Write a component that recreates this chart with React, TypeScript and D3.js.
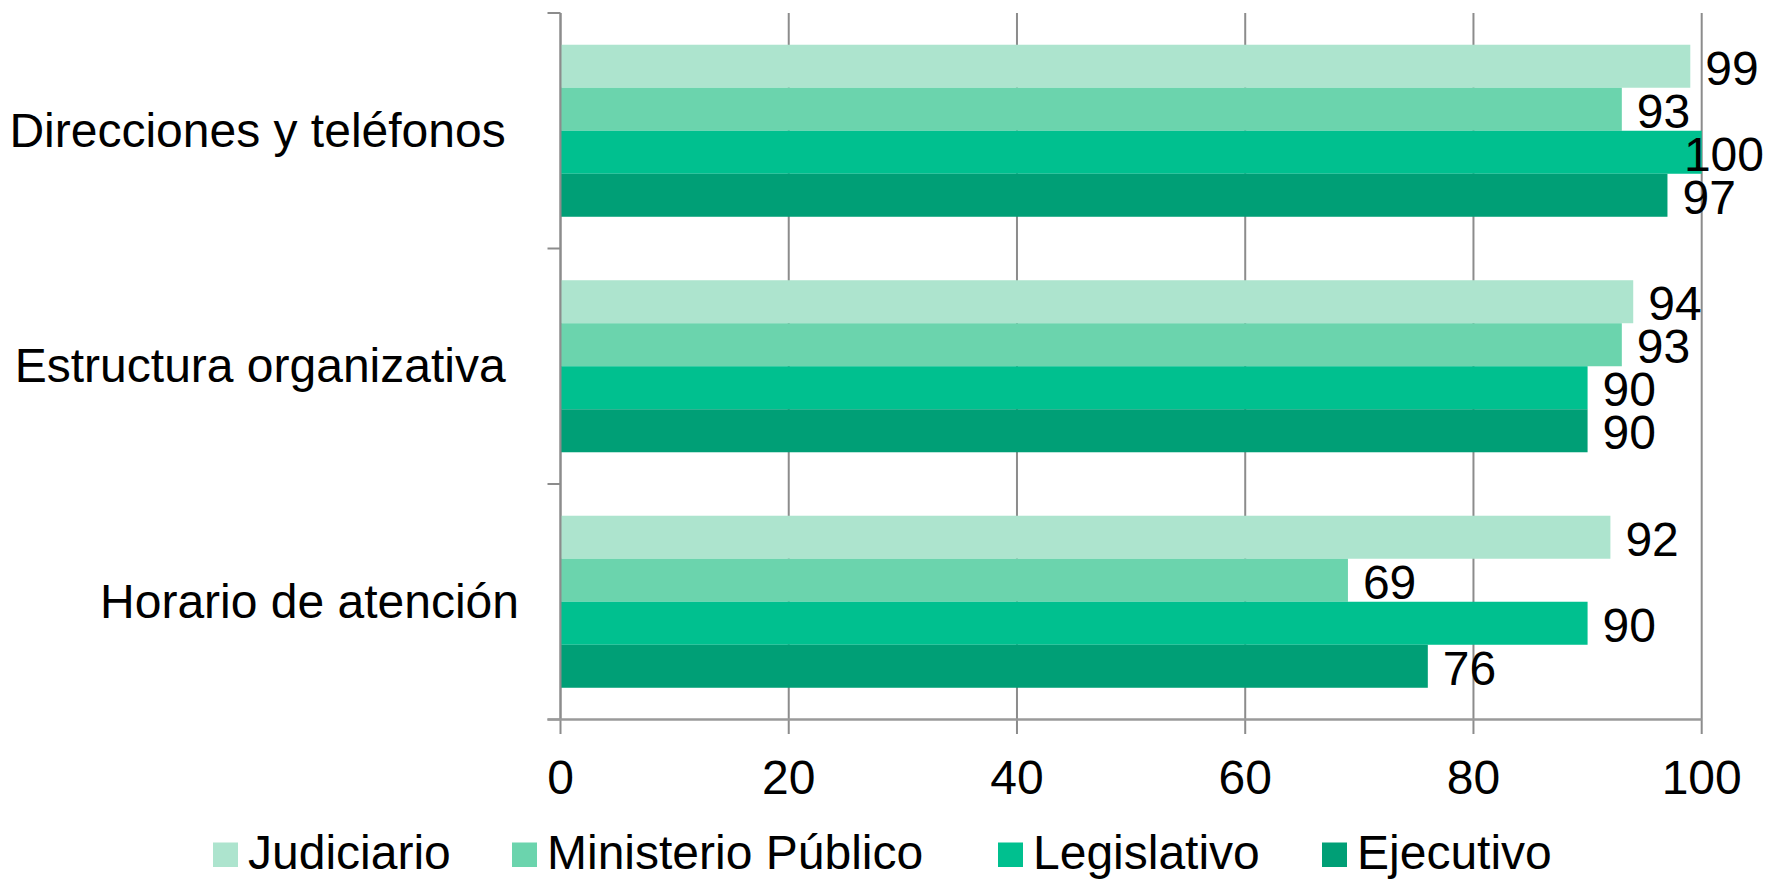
import React from "react";
import * as d3 from "d3";

const categories = ["Direcciones y teléfonos ", "Estructura organizativa ", "Horario de atención"];
const seriesNames = ["Judiciario", "Ministerio Público", "Legislativo", "Ejecutivo"];
const judiciario = [99, 94, 92];
const ministerio = [93, 93, 69];
const legislativo = [100, 90, 90];
const ejecutivo = [97, 90, 76];
const xTicks = [0, 20, 40, 60, 80, 100];

const seriesValues = [judiciario, ministerio, legislativo, ejecutivo];
const colors = ["#ADE4CE", "#6BD4AD", "#00C08F", "#009F76"];
const legendX = [213, 512, 998, 1322];

const W = 1765;
const H = 879;
const FONT = "'Liberation Sans', Arial, sans-serif";
const FS = 48;
const plot = { left: 560.5, right: 1701.7, top: 13, bottom: 719.5 };

export default function App() {
  const x = d3.scaleLinear().domain([0, 100]).range([plot.left, plot.right]);
  const y = d3.scaleBand<string>().domain(categories).range([plot.top, plot.bottom]).padding(0);
  const inner = d3
    .scaleBand<string>()
    .domain(seriesNames)
    .range([0, y.bandwidth()])
    .paddingInner(0)
    .paddingOuter(0.738);

  const catTicks = [plot.top, ...categories.map((c) => (y(c) as number) + y.bandwidth())];

  return (
    <svg
      width={W}
      height={H}
      viewBox={`0 0 ${W} ${H}`}
      style={{ position: "absolute", left: 0, top: 0, background: "#fff" }}
      fontFamily={FONT}
    >
      {/* vertical gridlines */}
      {xTicks.map((t) => (
        <line key={"g" + t} x1={x(t)} x2={x(t)} y1={plot.top} y2={plot.bottom + 14.5} stroke="#8c8c8c" strokeWidth={2} />
      ))}
      {/* bars */}
      {categories.map((c, ci) =>
        seriesNames.map((s, si) => (
          <rect
            key={c + s}
            x={x(0)}
            y={(y(c) as number) + (inner(s) as number)}
            width={x(seriesValues[si][ci]) - x(0)}
            height={inner.bandwidth()}
            fill={colors[si]}
          />
        ))
      )}
      {/* left axis */}
      <line x1={plot.left} x2={plot.left} y1={plot.top} y2={plot.bottom} stroke="#8c8c8c" strokeWidth={2} />
      {catTicks.map((t, i) => (
        <line key={"ct" + i} x1={plot.left - 13} x2={plot.left} y1={t} y2={t} stroke="#8c8c8c" strokeWidth={2} />
      ))}
      {/* bottom axis */}
      <line x1={plot.left - 13} x2={plot.right} y1={plot.bottom} y2={plot.bottom} stroke="#9a9a9a" strokeWidth={2.5} />
      {/* x tick labels */}
      {xTicks.map((t) => (
        <text key={"xl" + t} x={x(t)} y={794} textAnchor="middle" fontSize={FS} fill="#000">
          {t}
        </text>
      ))}
      {/* category labels */}
      {categories.map((c) => (
        <text
          key={"cl" + c}
          x={519}
          y={(y(c) as number) + y.bandwidth() / 2 + 16}
          textAnchor="end"
          fontSize={FS}
          fill="#000"
          style={{ whiteSpace: "pre" }}
        >
          {c}
        </text>
      ))}
      {/* value labels */}
      {categories.map((c, ci) =>
        seriesNames.map((s, si) => {
          const v = seriesValues[si][ci];
          const label = String(v);
          const w = label.length * 0.556 * FS;
          const lx = Math.min(x(v) + 15, W - 1 - w);
          return (
            <text
              key={"vl" + c + s}
              x={lx}
              y={(y(c) as number) + (inner(s) as number) + inner.bandwidth() / 2 + 18.5}
              fontSize={FS}
              fill="#000"
            >
              {label}
            </text>
          );
        })
      )}
      {/* legend */}
      {seriesNames.map((s, si) => (
        <g key={"lg" + s} transform={`translate(${legendX[si]},0)`}>
          <rect x={0} y={842.5} width={25} height={24.5} fill={colors[si]} />
          <text x={35} y={868.5} fontSize={FS} fill="#000">
            {s}
          </text>
        </g>
      ))}
    </svg>
  );
}
